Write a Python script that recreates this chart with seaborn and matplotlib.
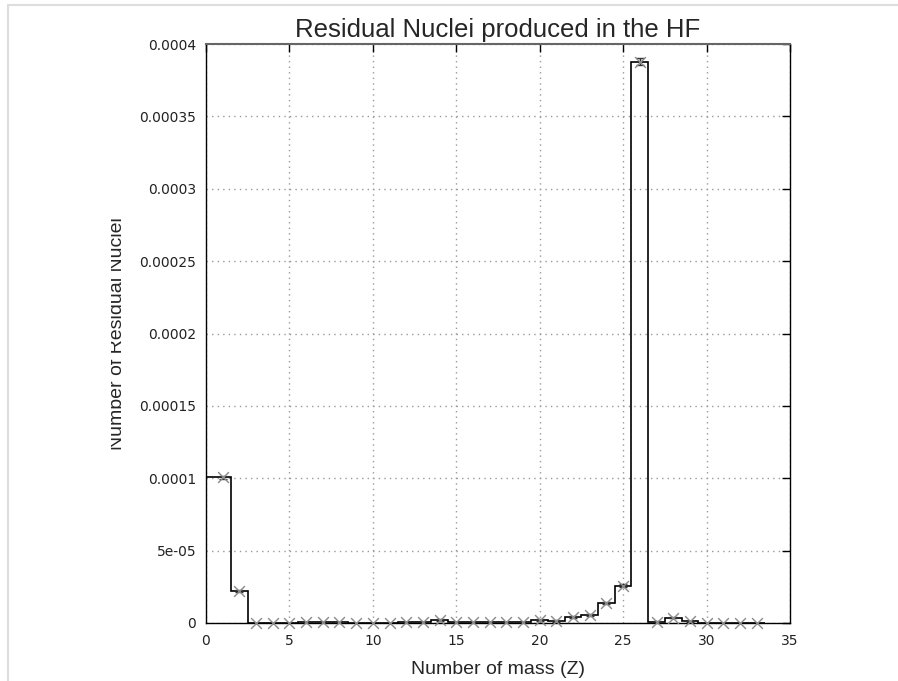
import numpy as np
import matplotlib
matplotlib.use("Agg")
import matplotlib.pyplot as plt
import seaborn as sns
from matplotlib.lines import Line2D
from matplotlib.transforms import Bbox, TransformedBbox

# residual nuclei per Z
z = np.arange(1, 34)
counts = np.array([
    1.008e-4, 2.21e-5, 0, 0, 0, 8e-7, 8e-7, 8e-7, 0, 0,
    0, 8e-7, 8e-7, 2.0e-6, 8e-7, 8e-7, 8e-7, 8e-7, 8e-7, 2.0e-6,
    1.4e-6, 4.1e-6, 5.5e-6, 1.38e-5, 2.58e-5, 3.878e-4, 1.0e-6, 3.7e-6, 1.2e-6, 0,
    0, 0, 0,
])
errors = np.array([
    1.0e-6, 5e-7, 0, 0, 0, 2e-7, 2e-7, 2e-7, 0, 0,
    0, 2e-7, 2e-7, 5e-7, 2e-7, 2e-7, 2e-7, 2e-7, 2e-7, 5e-7,
    4e-7, 6e-7, 7e-7, 1.0e-6, 1.2e-6, 2.5e-6, 3e-7, 5e-7, 3e-7, 0,
    0, 0, 0,
])

x_ticks = [0, 5, 10, 15, 20, 25, 30, 35]
y_ticks = [0, 5e-5, 1e-4, 1.5e-4, 2e-4, 2.5e-4, 3e-4, 3.5e-4, 4e-4]
y_tick_labels = ["0", "5e-05", "0.0001", "0.00015", "0.0002", "0.00025",
                 "0.0003", "0.00035", "0.0004"]

sns.set_style("white")
plt.rcParams["font.family"] = ["DejaVu Sans"]

fig = plt.figure(figsize=(8.98, 6.81), dpi=100)
ax = fig.add_axes([206 / 898, 1 - 623 / 681, 584 / 898, 579 / 681])

# histogram steps centred on each Z
edges = np.concatenate([[z[0] - 1], z + 0.5])
ax.stairs(counts, edges, color="black", linewidth=1.2, baseline=0)

ax.errorbar(z, counts, yerr=errors, fmt="none", ecolor="#333333",
            elinewidth=1, capsize=3, capthick=1)
sns.scatterplot(x=z, y=counts, marker="x", color="#8a8a8a", s=60,
                linewidth=1, ax=ax, zorder=3, clip_on=False)

ax.set_xlim(0, 35)
ax.set_ylim(0, 0.0004)
ax.set_xticks(x_ticks)
ax.set_yticks(y_ticks)
ax.set_yticklabels(y_tick_labels)
ax.tick_params(direction="in", length=6, width=1, colors="black",
               labelsize=10, top=True, right=True, labeltop=False, labelright=False)
ax.tick_params(axis="x", pad=8)
ax.tick_params(axis="y", pad=7)
for lab in ax.get_xticklabels() + ax.get_yticklabels():
    lab.set_color("#222222")

ax.grid(True, linestyle=(0, (1, 3)), color="#999999", linewidth=1)
ax.set_axisbelow(True)
for sp in ax.spines.values():
    sp.set_color("black")
    sp.set_linewidth(1)
ax.spines["top"].set_color("#666666")
ax.spines["top"].set_linewidth(1.5)

ax.set_title("Residual Nuclei produced in the HF", fontsize=18.5,
             family="Liberation Sans", pad=5)
ax.set_xlabel("Number of mass (Z)", fontsize=14, family="Liberation Sans",
              labelpad=9)
ax.set_ylabel("Number of Residual Nuclei", fontsize=14, family="Liberation Sans")
ax.yaxis.set_label_coords((126 - 206) / 584, 0.5)
# the left part of the y label is cut off in the original
ylab = ax.yaxis.label
ylab.set_clip_box(TransformedBbox(Bbox.from_extents(111 / 898, 0, 1, 1), fig.transFigure))
ylab.set_clip_on(True)

# light frame of the screenshot
fig.add_artist(Line2D([8 / 898, 1], [1 - 5 / 681, 1 - 5 / 681],
                      transform=fig.transFigure, color="#dddddd", linewidth=1.5))
fig.add_artist(Line2D([8 / 898, 8 / 898], [0, 1 - 5 / 681],
                      transform=fig.transFigure, color="#dddddd", linewidth=1.5))

fig.savefig("out.png", dpi=100)
